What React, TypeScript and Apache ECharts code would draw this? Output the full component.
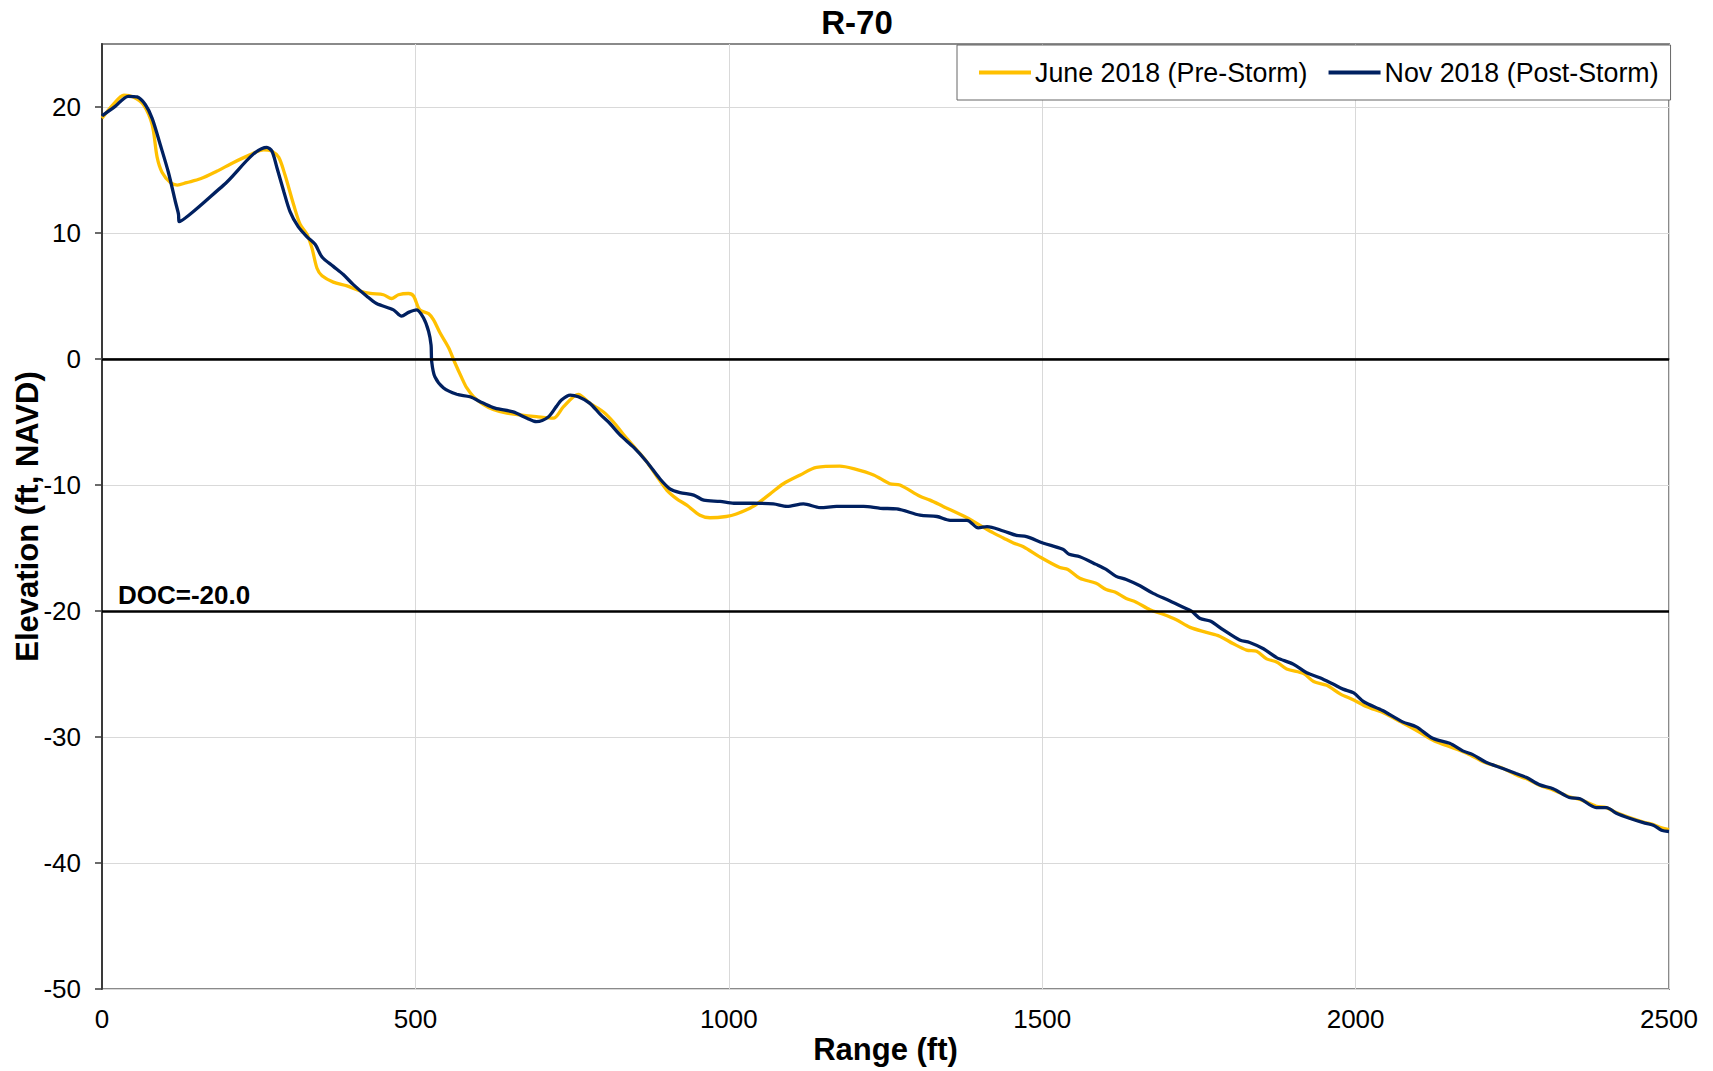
import React, { useEffect, useRef } from "react";
import * as echarts from "echarts";

const chartTitle = "R-70";
const seriesNames = ["June 2018 (Pre-Storm)", "Nov 2018 (Post-Storm)"];
const xTitle = "Range (ft)";
const yTitle = "Elevation (ft, NAVD)";
const docValue = -20;
const docLabel = "DOC=-20.0";
const yTickValues = [-50, -40, -30, -20, -10, 0, 10, 20];

const juneRange = [
  0, 18, 35, 50, 66, 80, 88, 96, 109, 120, 135, 157, 183, 210, 236, 258, 271, 282, 292, 306,
  316, 327, 335, 343, 351, 369, 391, 412, 428, 449, 462, 473, 489, 497, 507, 521, 529, 539, 553, 563,
  574, 582, 593, 608, 624, 646, 667, 693, 720, 736, 760, 778, 800, 816, 832, 853, 869, 885, 901, 917,
  933, 954, 970, 996, 1012, 1039, 1066, 1087, 1114, 1140, 1177, 1199, 1231, 1257, 1273, 1305, 1321, 1342, 1380, 1401,
  1422, 1438, 1454, 1470, 1496, 1528, 1541, 1560, 1586, 1602, 1616, 1634, 1650, 1672, 1693, 1714, 1736, 1762, 1783, 1805,
  1826, 1842, 1858, 1874, 1890, 1917, 1933, 1954, 1976, 1997, 2018, 2045, 2072, 2098, 2125, 2146, 2178, 2205, 2231, 2260,
  2272, 2294, 2315, 2341, 2358, 2384, 2400, 2416, 2437, 2459, 2475, 2488, 2500,
];
const juneElev = [
  19.1, 20.2, 20.95, 20.8, 20.2, 18.6, 16.0, 14.8, 14.0, 13.8, 14.0, 14.3, 14.9, 15.6, 16.2, 16.6, 16.5, 16.0, 14.6, 12.2,
  10.7, 9.9, 8.8, 7.2, 6.6, 6.1, 5.8, 5.4, 5.2, 5.1, 4.8, 5.1, 5.2, 5.0, 3.9, 3.6, 3.1, 2.1, 0.9, -0.3,
  -1.5, -2.3, -3.0, -3.6, -4.0, -4.3, -4.44, -4.58, -4.7, -3.8, -2.8, -3.5, -4.2, -5.0, -6.0, -7.2, -8.15, -9.3, -10.4, -11.1,
  -11.6, -12.4, -12.6, -12.5, -12.3, -11.7, -10.7, -9.9, -9.2, -8.6, -8.5, -8.7, -9.2, -9.9, -10.0, -10.9, -11.2, -11.7, -12.6, -13.2,
  -13.8, -14.2, -14.6, -14.9, -15.7, -16.55, -16.7, -17.4, -17.8, -18.3, -18.5, -19.0, -19.3, -19.9, -20.26, -20.7, -21.3, -21.7, -22.0, -22.6,
  -23.1, -23.2, -23.8, -24.05, -24.6, -24.97, -25.6, -25.9, -26.6, -27.06, -27.6, -28.1, -28.8, -29.5, -30.3, -30.7, -31.3, -32.0, -32.4, -33.1,
  -33.3, -33.85, -34.2, -34.75, -34.95, -35.5, -35.6, -36.0, -36.4, -36.75, -36.95, -37.2, -37.35,
];

const novRange = [
  0, 21, 42, 56, 69, 80, 93, 106, 117, 122, 123, 194, 263, 271, 279, 290, 300, 313, 327, 340,
  351, 369, 385, 401, 422, 438, 465, 478, 489, 502, 513, 521, 525, 526, 531, 545, 566, 587, 608, 627,
  656, 678, 693, 712, 725, 733, 747, 760, 778, 795, 810, 826, 848, 869, 890, 906, 922, 944, 960, 986,
  1008, 1039, 1071, 1093, 1119, 1146, 1172, 1215, 1242, 1268, 1305, 1332, 1353, 1380, 1398, 1412, 1438, 1459, 1475, 1501,
  1533, 1543, 1560, 1586, 1602, 1618, 1634, 1656, 1677, 1704, 1725, 1738, 1752, 1768, 1789, 1815, 1831, 1853, 1874, 1900,
  1922, 1943, 1964, 1980, 1997, 2013, 2043, 2075, 2097, 2123, 2150, 2171, 2187, 2208, 2235, 2256, 2272, 2294, 2315, 2341,
  2358, 2384, 2400, 2416, 2437, 2459, 2475, 2488, 2500,
];
const novElev = [
  19.3, 20.05, 20.85, 20.8, 20.2, 19.1, 17.0, 14.8, 12.5, 11.5, 10.9, 13.8, 16.8, 16.5, 15.2, 13.3, 11.7, 10.5, 9.7, 9.1,
  8.1, 7.35, 6.7, 5.9, 5.0, 4.4, 3.9, 3.4, 3.7, 3.9, 3.25, 2.2, 1.1, -0.2, -1.4, -2.3, -2.8, -3.0, -3.5, -3.9,
  -4.2, -4.7, -4.97, -4.6, -3.76, -3.25, -2.86, -3.0, -3.5, -4.4, -5.1, -6.0, -7.0, -8.15, -9.5, -10.3, -10.6, -10.8, -11.2, -11.3,
  -11.45, -11.45, -11.5, -11.7, -11.5, -11.8, -11.7, -11.7, -11.85, -11.9, -12.4, -12.5, -12.8, -12.8, -13.4, -13.3, -13.65, -14.0, -14.1, -14.6,
  -15.1, -15.5, -15.7, -16.3, -16.7, -17.25, -17.5, -18.0, -18.6, -19.2, -19.7, -20.0, -20.6, -20.8, -21.5, -22.3, -22.5, -23.0, -23.7, -24.2,
  -24.9, -25.3, -25.8, -26.2, -26.5, -27.2, -27.9, -28.8, -29.2, -30.1, -30.5, -31.1, -31.4, -32.0, -32.5, -32.9, -33.2, -33.8, -34.1, -34.8,
  -34.9, -35.6, -35.6, -36.05, -36.45, -36.8, -37.0, -37.4, -37.5,
];

const zip = (xs: number[], ys: number[]) => xs.map((x, i) => [x, ys[i]]);

const FONT = "'Liberation Sans', Arial, sans-serif";

export default function App() {
  const ref = useRef<HTMLDivElement>(null);
  useEffect(() => {
    if (!ref.current) return;
    const chart = echarts.init(ref.current, undefined, { renderer: "svg" });
    chart.setOption({
      animation: false,
      backgroundColor: "#ffffff",
      textStyle: { fontFamily: FONT },
      title: {
        text: chartTitle,
        left: 857,
        textAlign: "center",
        top: 6,
        padding: 0,
        textStyle: { fontFamily: FONT, fontSize: 33, fontWeight: "bold", color: "#000" },
      },
      legend: {
        left: 957,
        top: 45,
        padding: [14, 12, 14, 22],
        itemGap: 21,
        itemWidth: 52,
        itemHeight: 4,
        icon: "rect",
        borderColor: "#666",
        borderWidth: 1,
        backgroundColor: "#fff",
        textStyle: { fontFamily: FONT, fontSize: 26.8, color: "#000", padding: [0, 0, 0, -1] },
        data: seriesNames,
      },
      grid: {
        left: 102,
        top: 44,
        width: 1567,
        height: 945,
        show: true,
        borderColor: "#8a8a8a",
        borderWidth: 2,
        containLabel: false,
        outerBoundsMode: "none",
      },
      xAxis: {
        type: "value",
        min: 0,
        max: 2500,
        interval: 500,
        name: xTitle,
        nameLocation: "middle",
        nameGap: 45,
        nameMoveOverlap: false,
        nameTextStyle: { fontFamily: FONT, fontSize: 31, fontWeight: "bold", color: "#000" },
        axisLine: { show: true, lineStyle: { color: "#8a8a8a", width: 2 } },
        axisTick: { show: false },
        axisLabel: {
          fontFamily: FONT,
          fontSize: 26,
          color: "#000",
          margin: 17,
          formatter: (v: number) => String(v),
        },
        splitLine: { show: true, lineStyle: { color: "#d9d9d9", width: 1 } },
      },
      yAxis: {
        type: "value",
        min: -50,
        max: 25,
        interval: 10,
        name: yTitle,
        nameLocation: "middle",
        nameGap: 59,
        nameMoveOverlap: false,
        nameTextStyle: { fontFamily: FONT, fontSize: 31, fontWeight: "bold", color: "#000" },
        axisLine: { show: true, onZero: false, lineStyle: { color: "#3a3a3a", width: 2 } },
        axisTick: { show: true, length: 7, customValues: yTickValues, lineStyle: { color: "#3a3a3a", width: 1.5 } },
        axisLabel: {
          fontFamily: FONT,
          fontSize: 26,
          color: "#000",
          margin: 21,
          customValues: yTickValues,
          formatter: (v: number) => String(v),
        },
        splitLine: { show: true, lineStyle: { color: "#d9d9d9", width: 1 } },
      },
      series: [
        {
          name: seriesNames[0],
          type: "line",
          data: zip(juneRange, juneElev),
          showSymbol: false,
          symbol: "none",
          smooth: 0.3,
          lineStyle: { color: "#FFC000", width: 3.3 },
          itemStyle: { color: "#FFC000" },
          z: 3,
          markLine: {
            silent: true,
            symbol: "none",
            animation: false,
            lineStyle: { color: "#000", width: 2.5, type: "solid" },
            data: [
              { yAxis: 0, label: { show: false } },
              {
                yAxis: docValue,
                label: {
                  show: true,
                  formatter: docLabel,
                  position: "insideStartTop",
                  distance: [16, 3],
                  fontFamily: FONT,
                  fontSize: 26,
                  fontWeight: "bold",
                  color: "#000",
                },
              },
            ],
          },
        },
        {
          name: seriesNames[1],
          type: "line",
          data: zip(novRange, novElev),
          showSymbol: false,
          symbol: "none",
          smooth: 0.3,
          lineStyle: { color: "#002060", width: 3.3 },
          itemStyle: { color: "#002060" },
          z: 4,
        },
      ],
    });
    return () => chart.dispose();
  }, []);
  return (
    <div
      ref={ref}
      style={{ position: "absolute", left: 0, top: 0, width: 1713, height: 1071, background: "#fff" }}
    />
  );
}
